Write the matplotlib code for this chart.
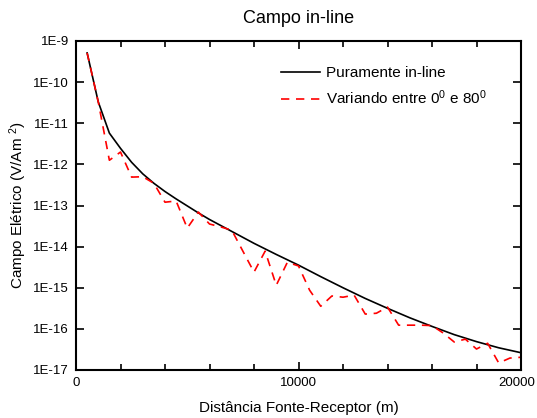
import numpy as np
import matplotlib
matplotlib.use('Agg')
import matplotlib.pyplot as plt
import matplotlib.transforms as mtransforms
from matplotlib.ticker import FixedLocator, MultipleLocator, FuncFormatter

plt.rcParams['font.family'] = ['Liberation Sans', 'DejaVu Sans']
plt.rcParams['mathtext.fontset'] = 'custom'
plt.rcParams['mathtext.rm'] = 'Liberation Sans'
plt.rcParams['mathtext.it'] = 'Liberation Sans'

# distancias (m) e log10 do campo
x_inline = [500, 1000, 1500, 2000, 2500, 3000, 3500, 4000, 4500, 5000, 5500, 6000, 7000,
            8000, 9000, 10000, 11000, 12000, 13000, 14000, 15000, 16000, 17000, 18000,
            19000, 20000]
log_inline = [-9.29, -10.48, -11.24, -11.61, -11.95, -12.23, -12.46, -12.66, -12.84,
              -13.01, -13.18, -13.34, -13.63, -13.92, -14.19, -14.45, -14.73, -15.00,
              -15.26, -15.50, -15.73, -15.94, -16.14, -16.31, -16.46, -16.58]

x_var = list(range(500, 20001, 500))
log_var = [-9.29, -10.48, -11.90, -11.70, -12.31, -12.30, -12.46, -12.92, -12.89, -13.55,
           -13.16, -13.45, -13.52, -13.60, -14.11, -14.62, -14.11, -14.94, -14.38, -14.47,
           -15.06, -15.45, -15.20, -15.23, -15.18, -15.64, -15.62, -15.47, -15.91, -15.91,
           -15.91, -15.92, -16.10, -16.32, -16.25, -16.49, -16.35, -16.83, -16.71, -16.69]

fig = plt.figure(figsize=(5.37, 4.18), dpi=100)
ax = fig.add_axes([76/537, 1 - 370/418, 445/537, 329/418])

ax.plot(x_inline, 10.0**np.array(log_inline), color='black', lw=1.2,
        label='Puramente in-line')
ax.plot(x_var, 10.0**np.array(log_var), color='red', lw=1.2, ls=(0, (5, 4)),
        label='Variando entre 0$^{0}$ e 80$^{0}$')

ax.set_yscale('log')
ax.set_xlim(0, 20000)
ax.set_ylim(1e-17, 1e-9)

ax.xaxis.set_major_locator(FixedLocator([0, 10000, 20000]))
ax.xaxis.set_minor_locator(MultipleLocator(2000))
ax.yaxis.set_major_locator(FixedLocator([10.0**k for k in range(-17, -8)]))
ax.yaxis.set_minor_locator(FixedLocator([]))
ax.yaxis.set_major_formatter(FuncFormatter(lambda v, p: '1E%d' % round(np.log10(v))))

ax.tick_params(which='both', direction='in', top=True, right=True, labelsize=9.5,
               colors='black', width=1.2)
ax.tick_params(which='major', length=6, pad=5)
ax.tick_params(which='minor', length=4)
for s in ax.spines.values():
    s.set_linewidth(1.5)

# last x label sits on the figure edge; nudge it in so it is not clipped
last = ax.get_xticklabels()[-1]
last.set_transform(last.get_transform() +
                   mtransforms.ScaledTranslation(-3/72, 0, fig.dpi_scale_trans))

ax.set_title('Campo in-line', fontsize=13, pad=13)
ax.set_xlabel('Distância Fonte-Receptor (m)', fontsize=11, labelpad=9)
ax.set_ylabel('Campo Elétrico (V/Am $^{2}$)', fontsize=11, labelpad=3)

ax.legend(loc='upper right', frameon=False, fontsize=11, handlelength=2.6,
          handletextpad=0.4, labelspacing=0.55, bbox_to_anchor=(0.955, 0.965))

fig.savefig('out.png', dpi=100)
